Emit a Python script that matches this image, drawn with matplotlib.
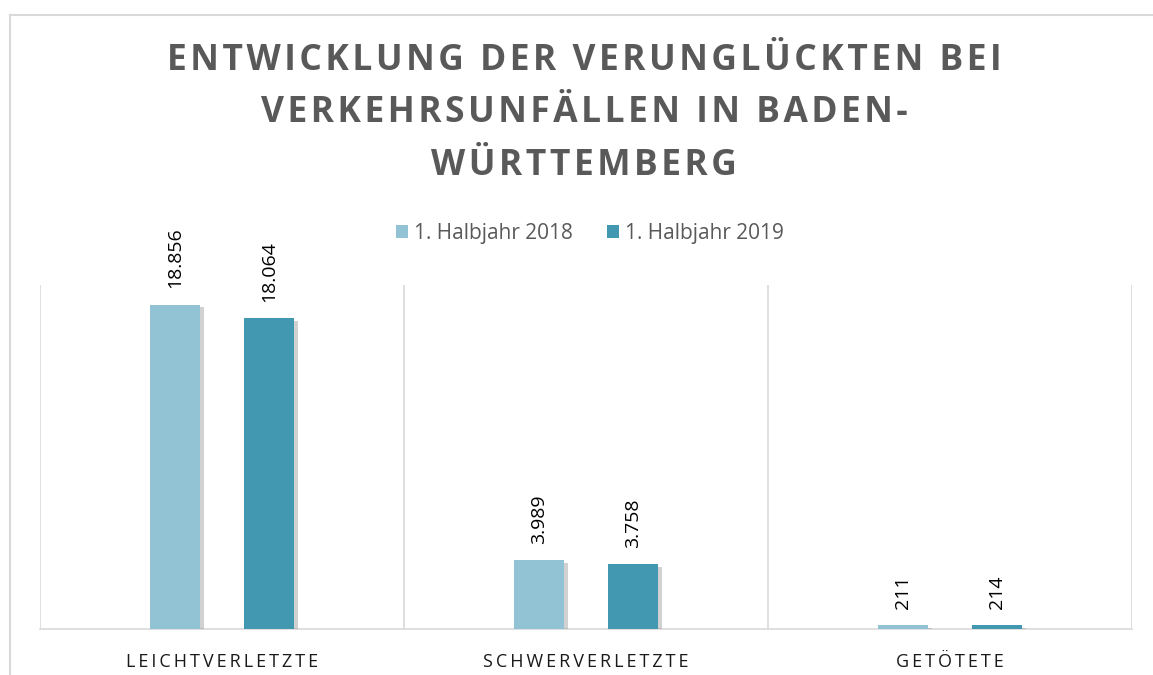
import numpy as np
import matplotlib
matplotlib.use("Agg")
import matplotlib.pyplot as plt
import matplotlib.patheffects as pe
from matplotlib.lines import Line2D

categories = ["LEICHTVERLETZTE", "SCHWERVERLETZTE", "GETÖTETE"]
series_names = ["1. Halbjahr 2018", "1. Halbjahr 2019"]
values_2018 = [18856, 3989, 211]
values_2019 = [18064, 3758, 214]
labels_2018 = ["18.856", "3.989", "211"]
labels_2019 = ["18.064", "3.758", "214"]
title_lines = ["ENTWICKLUNG DER VERUNGLÜCKTEN BEI", "VERKEHRSUNFÄLLEN IN BADEN-", "WÜRTTEMBERG"]

col_2018 = "#92C3D5"
col_2019 = "#4198B0"
grid_col = "#D9D9D9"
fam = ["Open Sans", "DejaVu Sans"]


def spaced(s, sep="\u200a"):
    # letter spacing via hair spaces
    return sep.join(list(s))


fig = plt.figure(figsize=(11.53, 6.75), dpi=100)
ax = fig.add_axes([40 / 1153, 1 - 629 / 675, (1132 - 40) / 1153, (629 - 285) / 675])

x = np.arange(len(categories))
w = 0.135
off = 0.129
shadow = [pe.SimplePatchShadow(offset=(3, -2), shadow_rgbFace="#8c8c8c", alpha=0.4), pe.Normal()]
b1 = ax.bar(x - off, values_2018, w, color=col_2018, label=series_names[0], zorder=3)
b2 = ax.bar(x + off, values_2019, w, color=col_2019, label=series_names[1], zorder=3)
for b in list(b1) + list(b2):
    b.set_path_effects(shadow)

for xi, v, t in zip(x - off, values_2018, labels_2018):
    ax.annotate(t, (xi, v), xytext=(0, 12), textcoords="offset points", rotation=90,
                ha="center", va="bottom", fontsize=14, family=fam, color="#000000",
                annotation_clip=False)
for xi, v, t in zip(x + off, values_2019, labels_2019):
    ax.annotate(t, (xi, v), xytext=(0, 12), textcoords="offset points", rotation=90,
                ha="center", va="bottom", fontsize=14, family=fam, color="#000000",
                annotation_clip=False)

ax.set_xlim(-0.5, len(categories) - 0.5)
ax.set_ylim(0, 20000)
ax.set_yticks([])
ax.set_xticks(x)
ax.set_xticklabels([spaced(c, "\u2009") for c in categories], family=fam, fontsize=13, color="#1a1a1a")
ax.tick_params(axis="x", length=0, pad=17)
for s in ["top", "right", "left"]:
    ax.spines[s].set_visible(False)
ax.spines["bottom"].set_color(grid_col)
ax.spines["bottom"].set_linewidth(1.2)
for gx in np.arange(-0.5, len(categories), 1.0):
    ax.axvline(gx, color=grid_col, lw=1.2, zorder=1)

# title
ys = [61, 113, 166]
for yy, line in zip(ys, title_lines):
    fig.text(584 / 1153, 1 - yy / 675, spaced(line), ha="center", va="center", fontsize=25.5,
             fontweight="bold", color="#595959", family=fam)

leg = fig.legend(handles=[b1, b2], loc="center", bbox_to_anchor=(590 / 1153, 1 - 233 / 675),
                 ncol=2, frameon=False, prop={"family": fam, "size": 15},
                 handlelength=0.6, handleheight=0.6, handletextpad=0.3, columnspacing=1.6)
for t in leg.get_texts():
    t.set_color("#595959")
for h in leg.legend_handles:
    h.set_path_effects([])

# outer chart frame
fig.add_artist(Line2D([10 / 1153, 1], [1 - 15 / 675, 1 - 15 / 675], color=grid_col, lw=1.5))
fig.add_artist(Line2D([10 / 1153, 10 / 1153], [0, 1 - 15 / 675], color=grid_col, lw=1.5))

fig.savefig("out.png", dpi=100)
